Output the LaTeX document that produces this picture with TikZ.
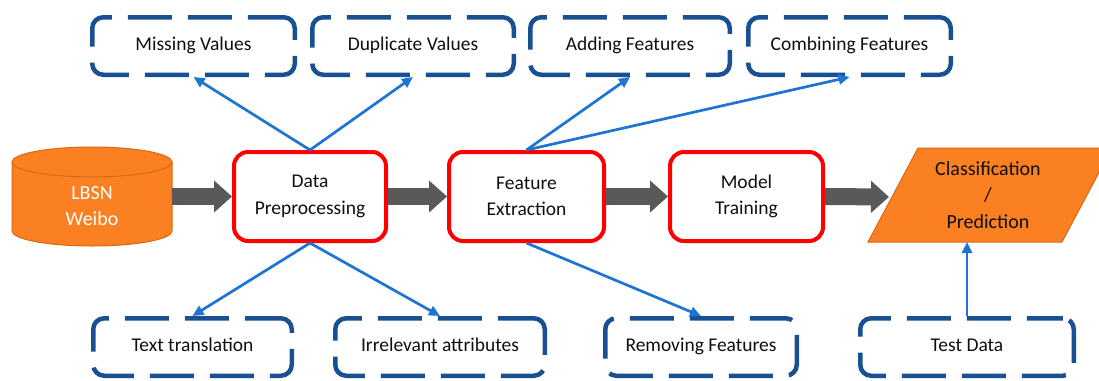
\documentclass[tikz,border=0pt]{standalone}
\usepackage{fontspec}
\setmainfont{Carlito}
\usetikzlibrary{arrows.meta}
\definecolor{dashblue}{RGB}{24,80,146}
\definecolor{arrowblue}{RGB}{30,116,210}
\definecolor{boxred}{RGB}{255,0,0}
\definecolor{flowgray}{RGB}{89,89,89}
\definecolor{cylorange}{RGB}{250,128,34}
\definecolor{cyledge}{RGB}{214,106,20}
\definecolor{txt}{RGB}{15,15,15}
\begin{document}
\begin{tikzpicture}[x=1pt,y=-1pt,
  font=\fontsize{19.5}{26.5}\selectfont,
  dashbox/.style={draw=dashblue, line width=4.5pt, dash pattern=on 44pt off 16pt, dash phase=8pt, rounded corners=11pt, inner sep=0pt, minimum height=57.5pt, text height=13pt, text depth=4pt, align=center, text=txt, fill=white},
  procbox/.style={draw=boxred, line width=4pt, rounded corners=14pt, minimum height=89pt, inner sep=0pt, align=center, fill=white, text=txt},
  flow/.style={draw=flowgray, line width=17pt, -{Triangle[width=31pt,length=18pt]}},
  link/.style={draw=arrowblue, line width=2.7pt, -{Triangle[width=10pt,length=11pt]}},
]
\useasboundingbox (0,0) rectangle (1099,380);

% database cylinder
\fill[cylorange] (12,162) -- (12,231) arc[start angle=180, end angle=0, x radius=80, y radius=15] -- (172,162) arc[start angle=0, end angle=-180, x radius=80, y radius=15] -- cycle;
\draw[cyledge, line width=1pt] (12,162) -- (12,231) arc[start angle=180, end angle=0, x radius=80, y radius=15] -- (172,162);
\draw[cyledge, line width=1pt] (92,162) ellipse[x radius=80, y radius=15];
\node[text=white, align=center, minimum width=160pt, inner sep=0pt, font=\fontsize{20}{26.5}\selectfont] (db) at (92,206) {LBSN\\Weibo};

% output parallelogram
\draw[draw=cyledge, fill=cylorange, line width=1pt] (918,148) -- (1112,148) -- (1062,242) -- (868,242) -- cycle;
\node[align=center, text=txt, font=\fontsize{20}{26.5}\selectfont] (cp) at (988,195) {Classification\\/\\Prediction};
\coordinate (cpin) at (889,197);
\coordinate (cpb) at (967,242);

% process boxes
\node[procbox, minimum width=152pt] (dp) at (310,196.5) {Data\\Preprocessing};
\node[procbox, minimum width=155pt] (fe) at (526.5,196.5) {Feature\\Extraction};
\node[procbox, minimum width=153pt] (mt) at (746.5,196.5) {Model\\Training};

% dashed boxes, top
\node[dashbox, minimum width=202.5pt] (miss) at (193.5,46) {Missing Values};
\node[dashbox, minimum width=201.5pt] (dup) at (413,46) {Duplicate Values};
\node[dashbox, minimum width=199.5pt] (add) at (630,46) {Adding Features};
\node[dashbox, minimum width=202.5pt] (comb) at (849.5,46) {Combining Features};

% dashed boxes, bottom
\node[dashbox, minimum width=198.5pt] (tt) at (192.5,347) {Text translation};
\node[dashbox, minimum width=209.5pt] (irr) at (440,347) {Irrelevant attributes};
\node[dashbox, minimum width=191.5pt] (rem) at (701,347) {Removing Features};
\node[dashbox, minimum width=213.5pt] (test) at (967,347) {Test Data};

% main flow
\draw[flow] (db.east |- dp.west) -- (dp.west);
\draw[flow] (dp.east) -- (fe.west);
\draw[flow] (fe.east) -- (mt.west);
\draw[flow] (mt.east) -- (cpin);

% blue links
\draw[link] (dp.north) -- (miss.south);
\draw[link] (dp.north) -- (dup.south);
\draw[link] (fe.north) -- (add.south);
\draw[link] (fe.north) -- (comb.south);
\draw[link] (dp.south) -- (tt.north);
\draw[link] (dp.south) -- (irr.north);
\draw[link] (fe.south) -- (rem.north);
\draw[link] (test.north) -- (cpb);
\end{tikzpicture}
\end{document}
